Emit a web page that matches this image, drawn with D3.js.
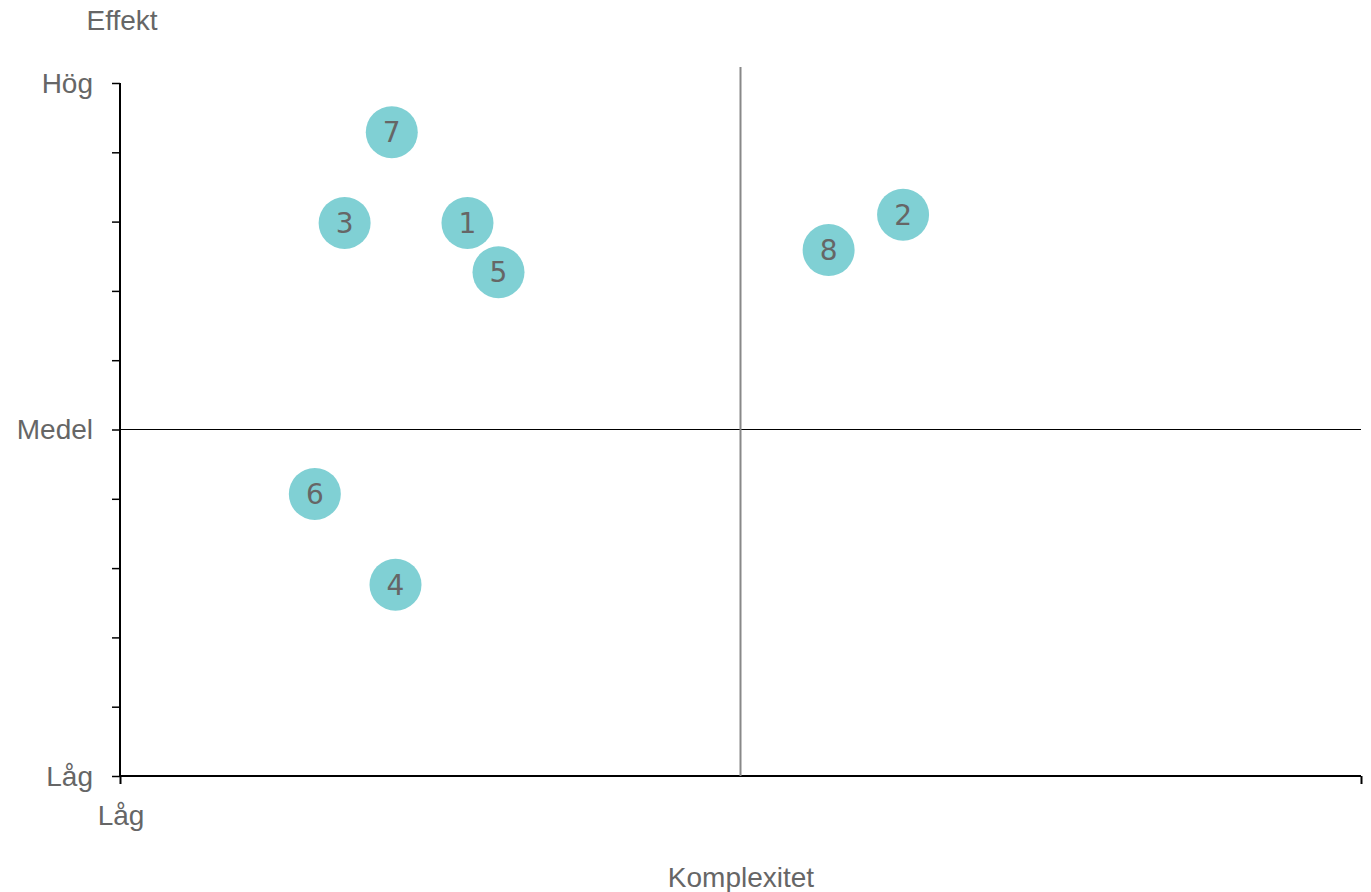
<!DOCTYPE html>
<html><head><meta charset="utf-8">
<script src="https://cdn.jsdelivr.net/npm/d3@7"></script>
<style>body{margin:0;background:#fff;}svg{display:block;}</style>
</head><body>
<script>
const ids = ["1","2","3","4","5","6","7","8"];
const complexity = [2.80, 6.31, 1.81, 2.22, 3.05, 1.57, 2.19, 5.71];
const effect = [7.98, 8.10, 7.98, 2.76, 7.27, 4.07, 9.29, 7.59];
const yTickLabels = [[0,"Låg"],[5,"Medel"],[10,"Hög"]];
const xTickLabels = [[0,"Låg"]];

const W=1371,H=892;
const svg=d3.select("body").append("svg").attr("width",W).attr("height",H);
const x=d3.scaleLinear().domain([0,10]).range([120,1361]);
const y=d3.scaleLinear().domain([0,10]).range([776,83]);
const txt="#666";
const font="'Liberation Sans', Arial, sans-serif";
const fs=28;

// y axis
const yAxis=d3.axisLeft(y).tickValues(d3.range(0,11)).tickSize(8).tickFormat("");
const gy=svg.append("g").attr("transform",`translate(${x(0)},0)`).call(yAxis);
gy.select(".domain").attr("d",`M0,${y(10)}V${y(0)}`).attr("stroke","#000").attr("stroke-width",2);
gy.selectAll(".tick line").attr("stroke","#000").attr("stroke-width",1.5);
svg.selectAll(".ylab").data(yTickLabels).enter().append("text")
  .attr("x",93).attr("y",d=>y(d[0])).attr("dy","0.35em").attr("text-anchor","end")
  .attr("font-family",font).attr("font-size",fs).attr("fill",txt).text(d=>d[1]);

// x axis
const xAxis=d3.axisBottom(x).tickValues([0,10]).tickSize(8).tickFormat("");
const gx=svg.append("g").attr("transform",`translate(0,${y(0)})`).call(xAxis);
gx.select(".domain").attr("d",`M${x(0)},0H${x(10)}`).attr("stroke","#000").attr("stroke-width",2);
gx.selectAll(".tick line").attr("stroke","#000").attr("stroke-width",2);
svg.selectAll(".xlab").data(xTickLabels).enter().append("text")
  .attr("x",d=>x(d[0])+1).attr("y",y(0)+49).attr("text-anchor","middle")
  .attr("font-family",font).attr("font-size",fs).attr("fill",txt).text(d=>d[1]);

// quadrant lines
svg.append("line").attr("x1",x(0)).attr("x2",x(10)).attr("y1",y(5)).attr("y2",y(5))
  .attr("stroke","#000").attr("stroke-width",1);
svg.append("line").attr("x1",x(5)).attr("x2",x(5)).attr("y1",y(10.23)).attr("y2",y(0))
  .attr("stroke","#888").attr("stroke-width",2);

// titles
svg.append("text").attr("x",122).attr("y",30).attr("text-anchor","middle")
  .attr("font-family",font).attr("font-size",fs).attr("fill",txt).text("Effekt");
svg.append("text").attr("x",741).attr("y",887).attr("text-anchor","middle")
  .attr("font-family",font).attr("font-size",fs).attr("fill",txt).text("Komplexitet");

// points
const data=ids.map((id,i)=>({id,cx:complexity[i],ef:effect[i]}));
const g=svg.selectAll(".pt").data(data).enter().append("g");
g.append("circle").attr("cx",d=>x(d.cx)).attr("cy",d=>y(d.ef)).attr("r",26).attr("fill","#80d0d4");
g.append("text").attr("x",d=>x(d.cx)).attr("y",d=>y(d.ef)).attr("dy","0.36em").attr("text-anchor","middle")
  .attr("font-family","'DejaVu Sans', Verdana, sans-serif").attr("font-size",28).attr("fill","#666").text(d=>d.id);
</script>
</body></html>
